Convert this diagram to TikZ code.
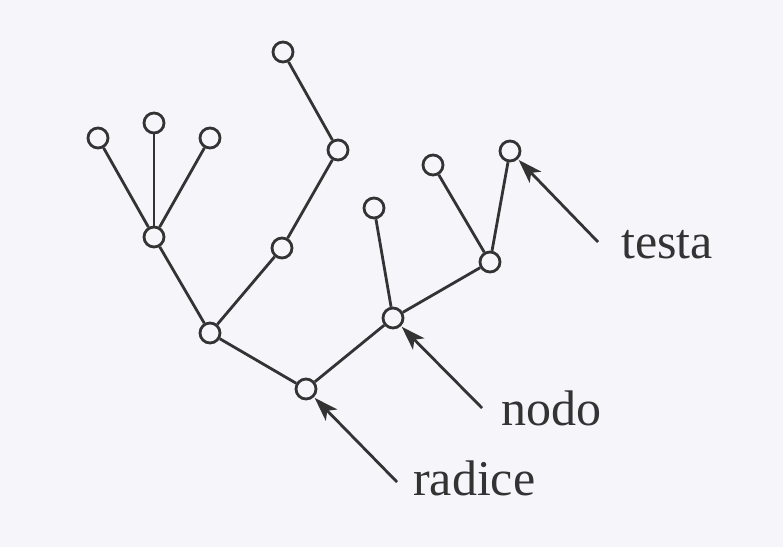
\documentclass[tikz,border=0pt]{standalone}
\usepackage{fontspec}
\setmainfont{Liberation Serif}
\usetikzlibrary{arrows.meta}
\definecolor{bg}{HTML}{F5F5FA}
\definecolor{ink}{HTML}{333333}
\begin{document}
\begin{tikzpicture}[x=1pt,y=-1pt,
  vert/.style={circle,draw=ink,line width=2.8pt,fill=bg,minimum size=20pt,inner sep=0pt},
  edge/.style={draw=ink,line width=2.8pt},
  lab/.style={anchor=base west,inner sep=0pt,text=ink,font=\fontsize{50}{60}\selectfont},
  pointer/.style={draw=ink,line width=2.8pt,-{Stealth[length=24pt,width=16pt,inset=6pt]},shorten >=1pt}]
\fill[bg] (0,0) rectangle (783,547);
\useasboundingbox (0,0) rectangle (783,547);
% nodes
\node[vert] (r) at (306,389) {};
\node[vert] (a) at (210,333) {};
\node[vert] (b) at (154,237) {};
\node[vert] (b1) at (98,138) {};
\node[vert] (b2) at (154,123) {};
\node[vert] (b3) at (210,138) {};
\node[vert] (c) at (282,248) {};
\node[vert] (d) at (338,150) {};
\node[vert] (e) at (283,52) {};
\node[vert] (n) at (393,318) {};
\node[vert] (f) at (374,208) {};
\node[vert] (g) at (490,262) {};
\node[vert] (h) at (433,165) {};
\node[vert] (t) at (510,151) {};
% edges
\draw[edge] (r) -- (a);
\draw[edge] (a) -- (b);
\draw[edge] (b) -- (b1);
\draw[edge] (b) -- (b2);
\draw[edge] (b) -- (b3);
\draw[edge] (a) -- (c);
\draw[edge] (c) -- (d);
\draw[edge] (d) -- (e);
\draw[edge] (r) -- (n);
\draw[edge] (n) -- (f);
\draw[edge] (n) -- (g);
\draw[edge] (g) -- (h);
\draw[edge] (g) -- (t);
% labels
\node[lab] (lt) at (621,258) {testa};
\node[lab] (ln) at (501,425) {nodo};
\node[lab] (lr) at (413,495) {radice};
\coordinate (tt) at (598,242);
\coordinate (nt) at (482,408);
\coordinate (rt) at (397,482);
\draw[pointer] (tt) -- (t);
\draw[pointer] (nt) -- (n);
\draw[pointer] (rt) -- (r);
\end{tikzpicture}
\end{document}
